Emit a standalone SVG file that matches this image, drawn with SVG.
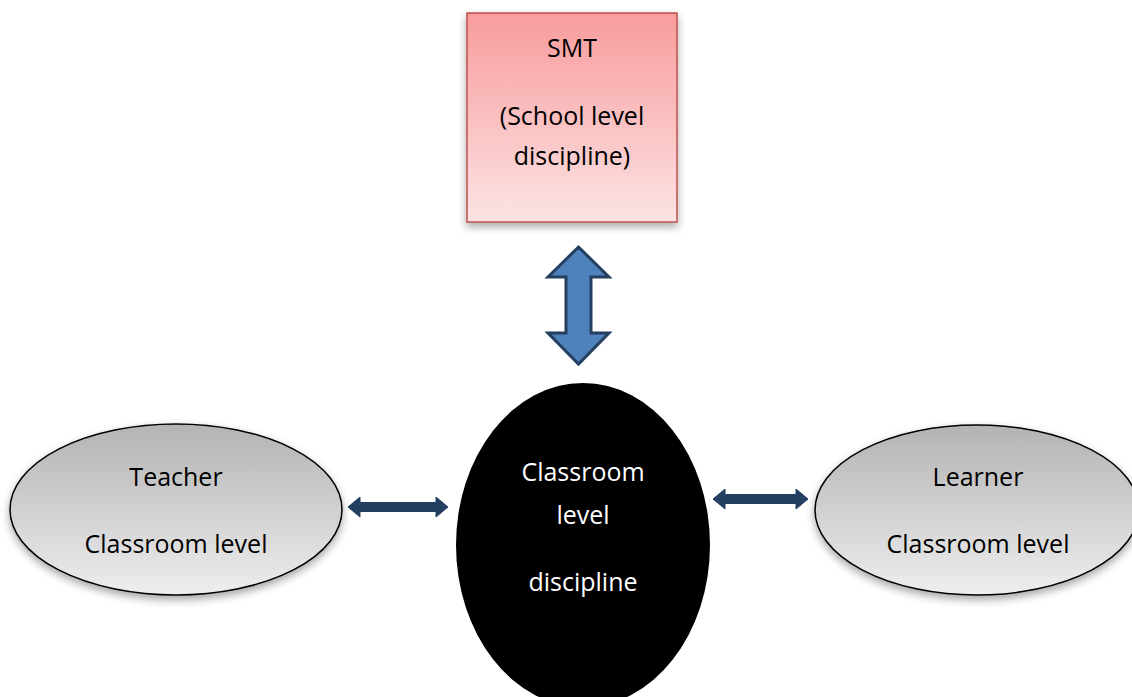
<svg xmlns="http://www.w3.org/2000/svg" width="1132" height="697" viewBox="0 0 1132 697">
  <defs>
    <linearGradient id="gRed" x1="0" y1="0" x2="0" y2="1">
      <stop offset="0" stop-color="#f89c9c"/>
      <stop offset="1" stop-color="#fce3e4"/>
    </linearGradient>
    <linearGradient id="gGray" x1="0" y1="0" x2="0" y2="1">
      <stop offset="0" stop-color="#b3b3b3"/>
      <stop offset="1" stop-color="#eeeeee"/>
    </linearGradient>
    <filter id="shadow" x="-20%" y="-20%" width="140%" height="150%">
      <feDropShadow dx="0" dy="4" stdDeviation="4" flood-color="#000" flood-opacity="0.35"/>
    </filter>
  </defs>
  <style>
    text { font-family: "Open Sans", "Noto Sans", "Liberation Sans", sans-serif; font-size: 25px; text-anchor: middle; fill: #000; }
    .white { fill: #fff; }
    .oval { fill: url(#gGray); stroke: #000; stroke-width: 1.5; }
    .thin { fill: #243f60; stroke: #243f60; stroke-width: 1; }
    .thick { fill: #4f81bd; stroke: #243f60; stroke-width: 3; stroke-linejoin: miter; }
  </style>
  <rect width="1132" height="697" fill="#fff"/>

  <g id="smt">
    <rect x="467" y="13" width="210" height="209" fill="url(#gRed)" stroke="#c0504d" stroke-width="1.5" filter="url(#shadow)"/>
    <text x="572" y="57">SMT</text>
    <text x="572" y="125">(School level</text>
    <text x="572" y="165">discipline)</text>
  </g>

  <g id="classroom">
    <ellipse cx="583" cy="545" rx="127" ry="162" fill="#000"/>
    <text class="white" x="583" y="481">Classroom</text>
    <text class="white" x="583" y="524">level</text>
    <text class="white" x="583" y="591">discipline</text>
  </g>

  <g id="teacher">
    <ellipse class="oval" cx="176" cy="509.5" rx="166" ry="85.5" filter="url(#shadow)"/>
    <text x="176" y="486">Teacher</text>
    <text x="176" y="553">Classroom level</text>
  </g>

  <g id="learner">
    <ellipse class="oval" cx="977" cy="510" rx="162" ry="85" filter="url(#shadow)"/>
    <text x="978" y="486">Learner</text>
    <text x="978" y="553">Classroom level</text>
  </g>

  <g id="connectors">
    <polygon class="thick" points="578.5,247 609,277 591,277 591,333 609,333 578.5,364 548,333 566,333 566,277 548,277"/>
    <polygon class="thin" points="348,507 360,497 360,502.5 436,502.5 436,497 448,507 436,517 436,511.5 360,511.5 360,517"/>
    <polygon class="thin" points="713,499 725,489 725,494.5 796,494.5 796,489 808,499 796,509 796,503.5 725,503.5 725,509"/>
  </g>
</svg>
